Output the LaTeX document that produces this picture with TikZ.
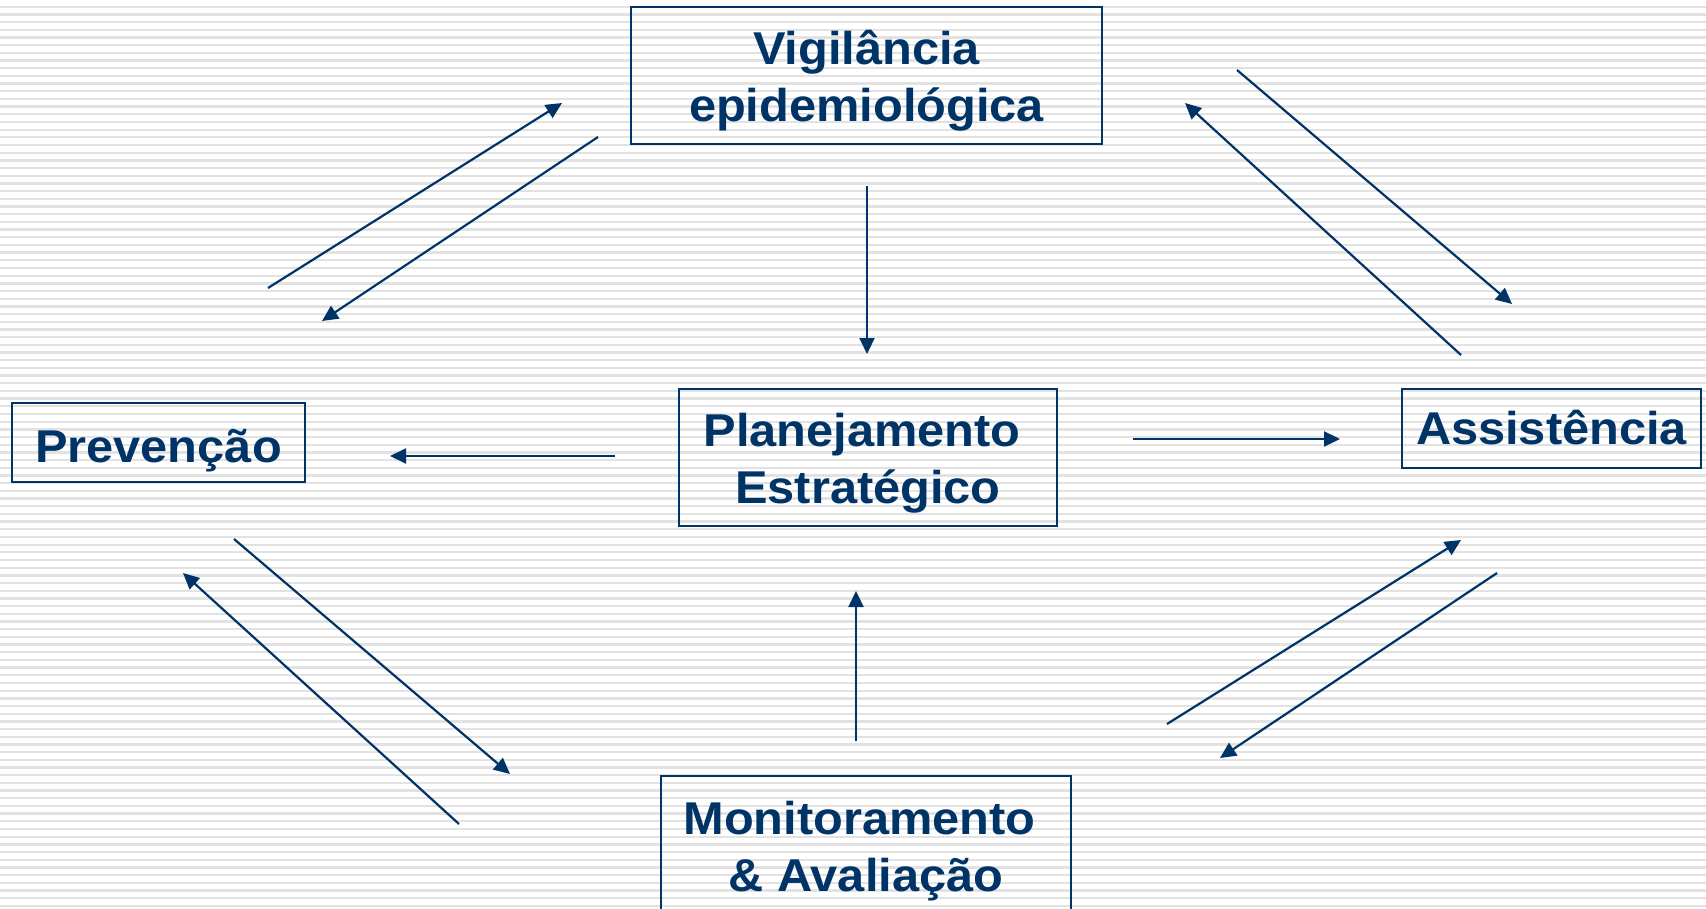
\documentclass[tikz,border=0pt]{standalone}
\usepackage{fontspec}
\setmainfont{Liberation Sans}[FakeStretch=1.06]
\usetikzlibrary{arrows.meta}
\definecolor{navy}{RGB}{0,51,102}
\definecolor{stripegray}{RGB}{226,226,226}
\newcommand\mytop[1]{\rule{0pt}{#1}}
\newcommand\mybot[1]{\rule[-#1]{0pt}{#1}}
\newcommand\trailsp[1]{\rule{#1}{0pt}}
\tikzset{
  box/.style={draw=navy, line width=1pt, inner sep=0pt, align=center,
    text=navy, font=\fontsize{23}{28.5}\selectfont\bfseries},
  conn/.style={draw=navy, line width=1.1pt, -{Triangle[length=8pt,width=7.5pt]}},
  stripe/.style={draw=stripegray, line width=1.15pt}
}
\begin{document}
\begin{tikzpicture}[x=0.5pt,y=-0.5pt]
\useasboundingbox (0,0) rectangle (1706,909);
\fill[white] (0,0) rectangle (1706,909);
\foreach \i in {0,...,118} \draw[stripe] (0,6.7+\i*7.685) -- (1706,6.7+\i*7.685);
\begin{scope}
\clip (0,0) rectangle (1706,909);
\node[box, minimum width=235.5pt, minimum height=68.5pt] (vig) at (866.5,75.5)
  {\mytop{24pt}Vigilância\\epidemiológica\mybot{6pt}};
\node[box, minimum width=146.5pt, minimum height=39.5pt] (prev) at (158.5,442.5)
  {\mytop{25pt}Prevenção\mybot{5.5pt}};
\node[box, minimum width=189pt, minimum height=68.5pt] (plan) at (868,457)
  {\mytop{24pt}Planejamento\trailsp{6pt}\\Estratégico\mybot{5.75pt}};
\node[box, minimum width=149.5pt, minimum height=39.5pt] (ass) at (1551.5,428.5)
  {\mytop{22pt}Assistência\mybot{6.25pt}};
\node[box, minimum width=205pt, minimum height=68.5pt] (mon) at (866,844.5)
  {\mytop{24pt}Monitoramento\trailsp{6.5pt}\\\& Avaliação\mybot{5.75pt}};
\end{scope}
% connector end points
\coordinate (vp1) at (867,186);  \coordinate (vp2) at (867,354);
\coordinate (mp1) at (856,741);  \coordinate (mp2) at (856,591);
\coordinate (pl1) at (615,456);  \coordinate (pl2) at (390,456);
\coordinate (pa1) at (1133,439); \coordinate (pa2) at (1340,439);
\coordinate (a5s) at (268,288);  \coordinate (a5e) at (562,103);
\coordinate (a6s) at (598,137);  \coordinate (a6e) at (322,321);
\coordinate (a7s) at (1237,70);  \coordinate (a7e) at (1512,304);
\coordinate (a8s) at (1461,355); \coordinate (a8e) at (1185,103);
\coordinate (a9s) at (234,539);  \coordinate (a9e) at (510,774);
\coordinate (a10s) at (459,824); \coordinate (a10e) at (183,573);
\coordinate (a11s) at (1167,724); \coordinate (a11e) at (1461,540);
\coordinate (a12s) at (1497,573); \coordinate (a12e) at (1220,758);
\draw[conn] (vp1) -- (vp2);
\draw[conn] (mp1) -- (mp2);
\draw[conn] (pl1) -- (pl2);
\draw[conn] (pa1) -- (pa2);
\draw[conn] (a5s) -- (a5e);
\draw[conn] (a6s) -- (a6e);
\draw[conn] (a7s) -- (a7e);
\draw[conn] (a8s) -- (a8e);
\draw[conn] (a9s) -- (a9e);
\draw[conn] (a10s) -- (a10e);
\draw[conn] (a11s) -- (a11e);
\draw[conn] (a12s) -- (a12e);
\end{tikzpicture}
\end{document}
